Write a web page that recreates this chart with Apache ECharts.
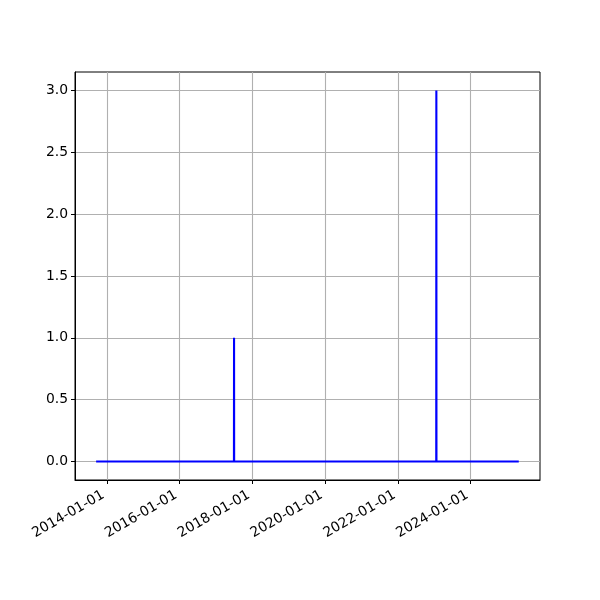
<!DOCTYPE html>
<html>
<head>
<meta charset="utf-8">
<script src="https://cdn.jsdelivr.net/npm/echarts@6/dist/echarts.min.js"></script>
<style>html,body{margin:0;padding:0;background:#fff}#c{width:600px;height:600px}</style>
</head>
<body>
<div id="c"></div>
<script>
const dates = ['2013-09-16','2017-06-30','2017-07-01','2017-07-02','2023-01-20','2023-01-21','2023-01-22','2025-04-27'];
const values = [0, 0, 1, 0, 0, 3, 0, 0];
const xTickLabels = ['2014-01-01','2016-01-01','2018-01-01','2020-01-01','2022-01-01','2024-01-01'];
const yTicks = [0, 0.5, 1.0, 1.5, 2.0, 2.5, 3.0];
const xMin = '2013-02-16', xMax = '2025-11-26';

const ts = s => Date.parse(s + 'T00:00:00Z');
const pad = n => (n < 10 ? '0' : '') + n;
const fmt = v => { const d = new Date(v); return d.getUTCFullYear() + '-' + pad(d.getUTCMonth()+1) + '-' + pad(d.getUTCDate()); };
const xTickVals = xTickLabels.map(ts);

const chart = echarts.init(document.getElementById('c'), null, {renderer: 'canvas'});
const font = 'DejaVu Sans';
chart.setOption({
  animation: false,
  grid: {left: 75, right: 60, top: 72, bottom: 120, show: true, borderColor: '#000', borderWidth: 1, backgroundColor: 'transparent'},
  xAxis: {
    type: 'value',
    min: ts(xMin), max: ts(xMax),
    axisLine: {show: true, onZero: false, lineStyle: {color: '#000', width: 1}},
    axisTick: {show: true, inside: false, length: 4, lineStyle: {color: '#000', width: 1}, customValues: xTickVals},
    axisLabel: {customValues: xTickVals, formatter: v => fmt(v), rotate: 30, margin: 12, padding: [0, 4, 0, 0], color: '#000', fontFamily: font, fontSize: 13.9, hideOverlap: false},
    splitLine: {show: true, lineStyle: {color: '#b0b0b0', width: 1.1}}
  },
  yAxis: {
    type: 'value',
    min: -0.15, max: 3.15,
    axisLine: {show: true, onZero: false, lineStyle: {color: '#000', width: 1}},
    axisTick: {show: true, inside: false, length: 4, lineStyle: {color: '#000', width: 1}, customValues: yTicks},
    axisLabel: {customValues: yTicks, formatter: v => v.toFixed(1), margin: 7, color: '#000', fontFamily: font, fontSize: 13.9},
    splitLine: {show: true, lineStyle: {color: '#b0b0b0', width: 1.1}}
  },
  series: [{
    type: 'line',
    data: dates.map((d, i) => [ts(d), values[i]]),
    showSymbol: false,
    symbol: 'none',
    lineStyle: {color: '#0000ff', width: 2.1},
    itemStyle: {color: '#0000ff'}
  }]
});
</script>
</body>
</html>
